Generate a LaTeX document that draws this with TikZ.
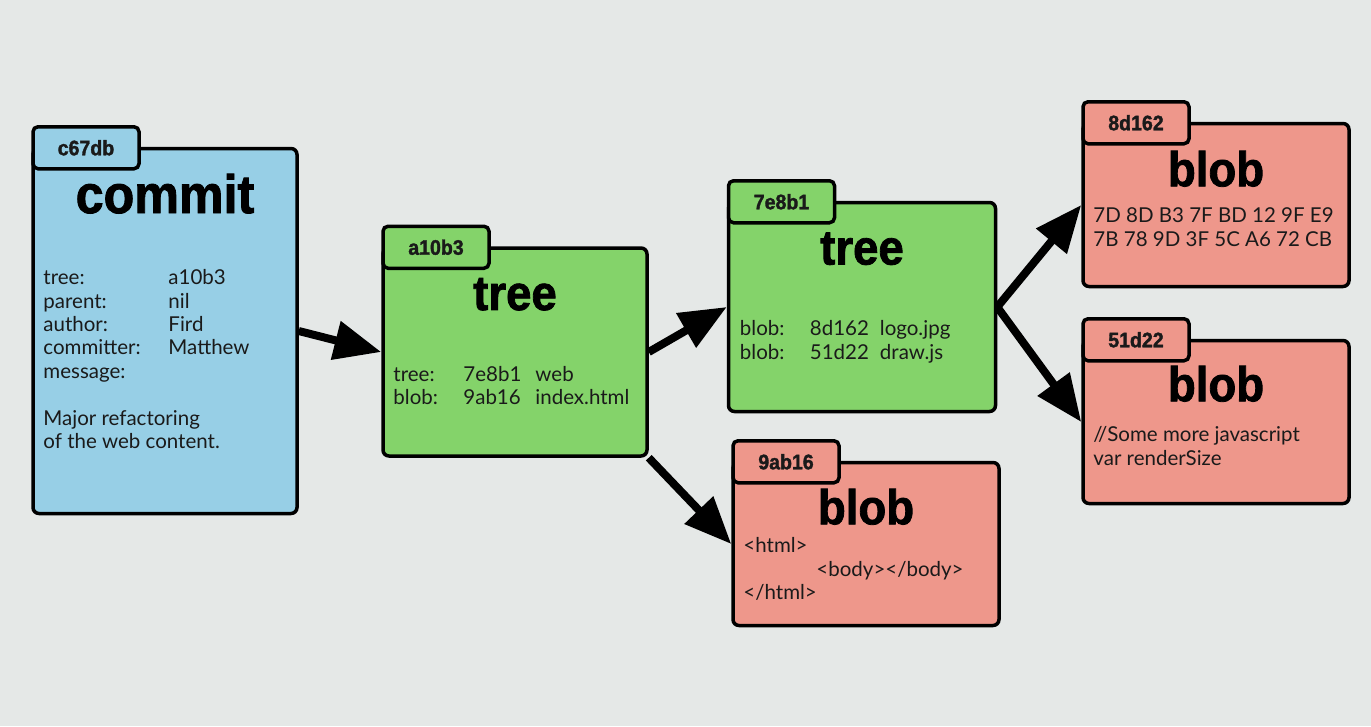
\documentclass[tikz,border=0pt]{standalone}
\usepackage{fontspec}
\setmainfont{Lato}
\newfontfamily\kindfont[FakeStretch=0.93,FakeBold=1.6]{Liberation Sans}
\usepackage{tikz}
\usetikzlibrary{arrows.meta,positioning}
\definecolor{canvas}{HTML}{E5E8E7}
\definecolor{commitblue}{HTML}{97CFE6}
\definecolor{treegreen}{HTML}{84D36A}
\definecolor{blobred}{HTML}{EE978B}
\definecolor{ink}{HTML}{1A1A1A}
\tikzset{
  objbox/.style={
    draw=black,
    line width=3.5pt,
    rounded corners=6pt,
    inner sep=0pt
  },
  commitbox/.style={objbox, fill=commitblue},
  treebox/.style={objbox, fill=treegreen},
  blobbox/.style={objbox, fill=blobred},
  hashtab/.style={
    draw=black,
    line width=3.5pt,
    rounded corners=5pt,
    minimum width=106pt,
    minimum height=42pt,
    inner sep=0pt,
    anchor=west,
    text=ink,
    font=\kindfont\bfseries\fontsize{21}{21}\selectfont
  },
  kindlabel/.style={
    inner sep=0pt,
    text=black,
    font=\kindfont\bfseries\fontsize{49}{49}\selectfont
  },
  fieldtext/.style={
    inner sep=0pt,
    anchor=base west,
    text=ink,
    font=\fontsize{20.5}{23.4}\selectfont
  },
  objarrow/.style={-{Triangle[length=47pt,width=38pt]}, line width=8pt, draw=black}
}

\begin{document}
\begin{tikzpicture}[x=1pt,y=-1pt]
\fill[canvas] (0,0) rectangle (1371,726);

\node[commitbox, minimum width=264pt, minimum height=365pt] (commit) at (165,331) {};
\node[treebox, minimum width=264pt, minimum height=208pt] (roottree) at (515,352) {};
\node[treebox, minimum width=267pt, minimum height=209pt] (webtree) at (862,307) {};
\node[blobbox, minimum width=266pt, minimum height=163pt] (indexblob) at (866,544) {};
\node[blobbox, minimum width=266pt, minimum height=163pt] (logoblob) at (1216,205) {};
\node[blobbox, minimum width=266pt, minimum height=163pt] (drawblob) at (1216,422) {};

\node[hashtab, fill=commitblue] (committab) at ([yshift=-1pt]commit.north west) {c67db};
\node[hashtab, fill=treegreen] (roottab) at ([yshift=-1pt]roottree.north west) {a10b3};
\node[hashtab, fill=treegreen] (webtab) at ([yshift=-1pt]webtree.north west) {7e8b1};
\node[hashtab, fill=blobred] (indextab) at ([yshift=-1pt]indexblob.north west) {9ab16};
\node[hashtab, fill=blobred] (logotab) at ([yshift=-1pt]logoblob.north west) {8d162};
\node[hashtab, fill=blobred] (drawtab) at ([yshift=-1pt]drawblob.north west) {51d22};

\node[kindlabel, font=\kindfont\bfseries\fontsize{54}{54}\selectfont] (committitle) at ([yshift=-47pt]commit.north) {commit};
\node[kindlabel] (roottitle) at ([yshift=-48pt]roottree.north) {tree};
\node[kindlabel] (webtitle) at ([yshift=-48pt]webtree.north) {tree};
\node[kindlabel] (indextitle) at ([yshift=-46pt]indexblob.north) {blob};
\node[kindlabel] (logotitle) at ([yshift=-47pt]logoblob.north) {blob};
\node[kindlabel] (drawtitle) at ([yshift=-45pt]drawblob.north) {blob};

\node[fieldtext] (commitfields) at ([xshift=12pt,yshift=-138pt]commit.north west) {%
  \begin{tabular}[t]{@{}p{125pt}@{}l@{}}
  tree: & a10b3\\
  parent: & nil\\
  author: & Fird\\
  committer: & Matthew\\
  message: & \\
  & \\
  \multicolumn{2}{@{}l@{}}{Major refactoring}\\
  \multicolumn{2}{@{}l@{}}{of the web content.}
  \end{tabular}};
\node[fieldtext] (rootfields) at ([xshift=12pt,yshift=-135pt]roottree.north west) {%
  \begin{tabular}[t]{@{}p{70pt}@{}p{72pt}@{}l@{}}
  tree: & 7e8b1 & web\\
  blob: & 9ab16 & index.html
  \end{tabular}};
\node[fieldtext] (webfields) at ([xshift=13pt,yshift=-135pt]webtree.north west) {%
  \begin{tabular}[t]{@{}p{70pt}@{}p{70pt}@{}l@{}}
  blob: & 8d162 & logo.jpg\\
  blob: & 51d22 & draw.js
  \end{tabular}};
\node[fieldtext] (indexfields) at ([xshift=12pt,yshift=-92pt]indexblob.north west) {%
  \begin{tabular}[t]{@{}l@{}}
  <html>\\
  \hspace{73pt}<body></body>\\
  </html>
  \end{tabular}};
\node[fieldtext] (logofields) at ([xshift=12pt,yshift=-101pt]logoblob.north west) {%
  \begin{tabular}[t]{@{}l@{}}
  7D 8D B3 7F BD 12 9F E9\\
  7B 78 9D 3F 5C A6 72 CB
  \end{tabular}};
\node[fieldtext] (drawfields) at ([xshift=12pt,yshift=-103pt]drawblob.north west) {%
  \begin{tabular}[t]{@{}l@{}}
  //Some more javascript\\
  var renderSize
  \end{tabular}};

\draw[objarrow] (commit.east) -- (roottree.west);
\draw[objarrow] (roottree.east) -- (webtree.west);
\draw[objarrow] (roottree.south east) -- (indexblob.west);
\draw[objarrow] (webtree.east) -- (logoblob.west);
\draw[objarrow] (webtree.east) -- (drawblob.west);
\end{tikzpicture}
\end{document}
